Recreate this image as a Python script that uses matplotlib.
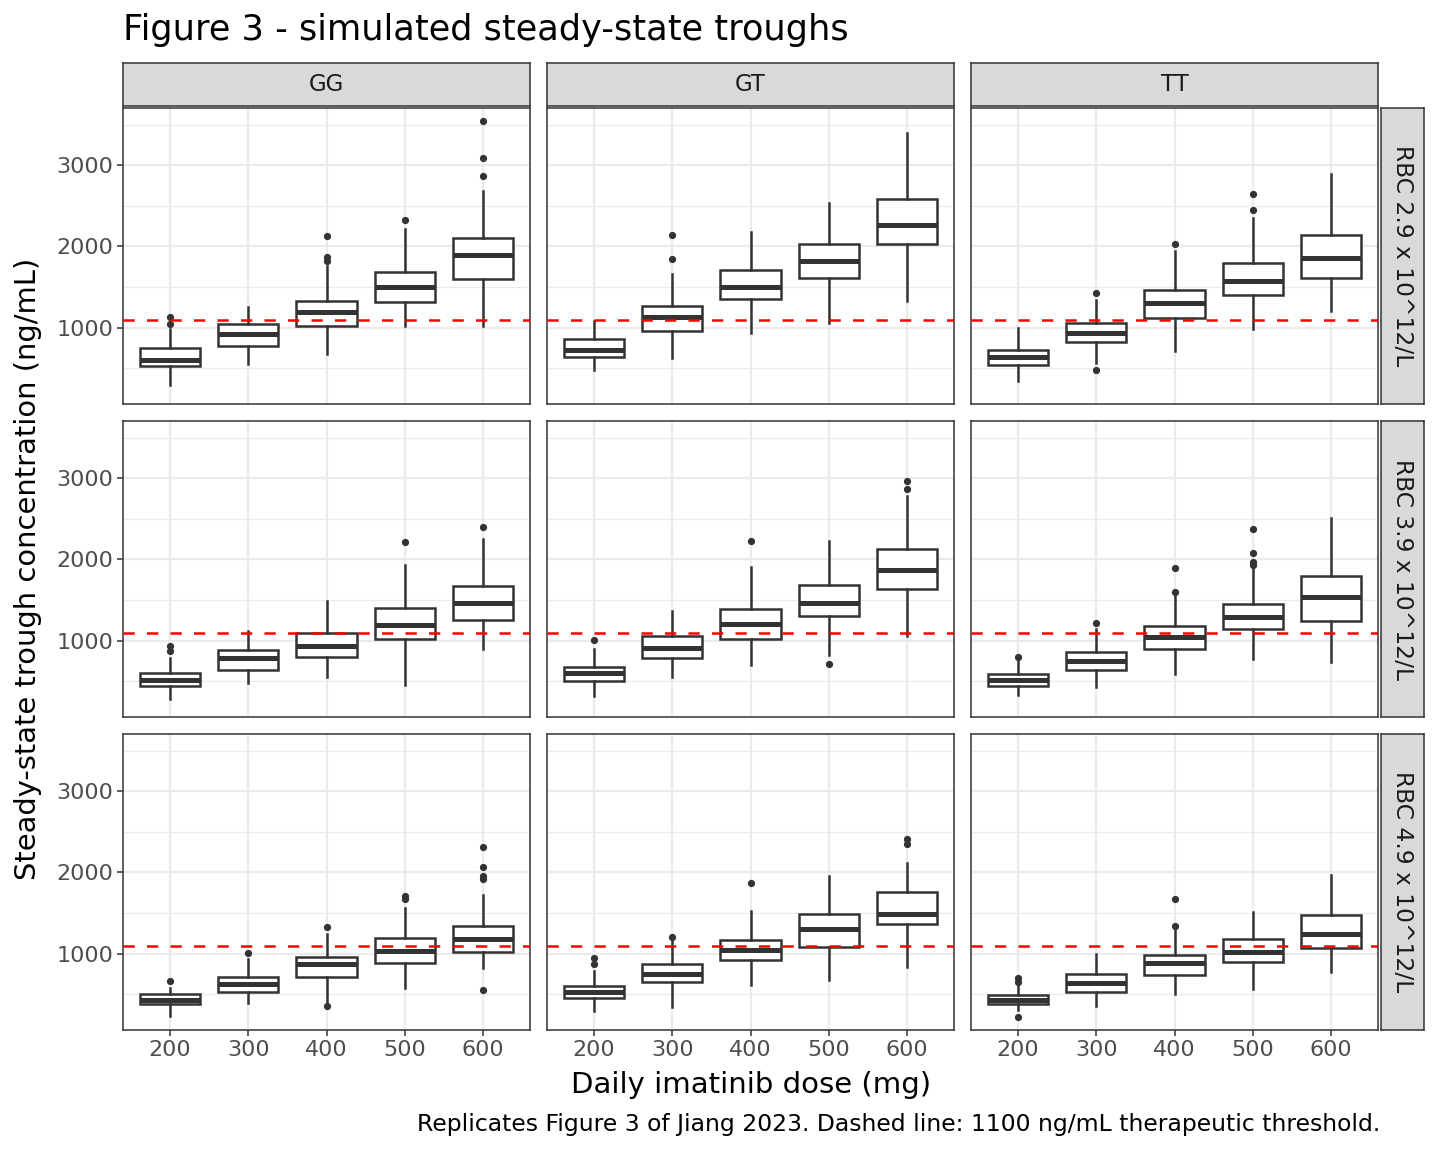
import matplotlib
matplotlib.use("Agg")
import matplotlib.pyplot as plt

# facets
genotypes = ["GG", "GT", "TT"]
rbc_labels = ["RBC 2.9 x 10^12/L", "RBC 3.9 x 10^12/L", "RBC 4.9 x 10^12/L"]
doses = [200, 300, 400, 500, 600]
threshold = 1100

# box statistics, [rbc row][genotype][dose]
whisk_lo = [
    [[291, 549, 672, 1016, 1016], [480, 623, 939, 1057, 1328], [340, 560, 713, 988, 1201]],
    [[283, 475, 549, 459, 902], [320, 549, 697, 824, 1061], [328, 434, 590, 779, 734]],
    [[238, 393, 393, 582, 824], [291, 344, 611, 672, 836], [303, 352, 508, 562, 775]],
]
q1 = [
    [[533, 779, 1025, 1316, 1594], [639, 963, 1357, 1615, 2033], [541, 820, 1115, 1398, 1615]],
    [[439, 639, 803, 1016, 1254], [508, 791, 1020, 1307, 1631], [443, 643, 902, 1148, 1246]],
    [[377, 529, 709, 881, 1016], [451, 652, 918, 1082, 1365], [377, 525, 738, 893, 1070]],
]
median = [
    [[602, 918, 1197, 1500, 1893], [725, 1131, 1500, 1815, 2262], [635, 934, 1307, 1574, 1852]],
    [[516, 783, 934, 1197, 1463], [598, 914, 1201, 1467, 1865], [520, 750, 1045, 1287, 1541]],
    [[426, 631, 877, 1033, 1176], [529, 754, 1045, 1307, 1492], [426, 639, 885, 1020, 1242]],
]
q3 = [
    [[746, 1041, 1328, 1684, 2106], [857, 1262, 1705, 2029, 2590], [730, 1061, 1467, 1795, 2135]],
    [[598, 885, 1094, 1398, 1668], [672, 1053, 1393, 1680, 2123], [590, 861, 1180, 1455, 1791]],
    [[500, 717, 959, 1197, 1340], [598, 877, 1172, 1488, 1762], [488, 746, 980, 1176, 1471]],
]
whisk_hi = [
    [[980, 1254, 1758, 2209, 2688], [1082, 1656, 2176, 2529, 3397], [1000, 1336, 1943, 2352, 2893]],
    [[787, 1115, 1488, 1926, 2258], [902, 1361, 1902, 2225, 2779], [760, 1143, 1566, 1902, 2508]],
    [[578, 939, 1246, 1557, 1721], [783, 1156, 1525, 1959, 2119], [623, 992, 1307, 1512, 1967]],
]
outliers = [
    [[[1049, 1131], [], [1820, 1869, 2131], [2328], [2865, 3090, 3545]],
     [[], [1848, 2147], [], [], []],
     [[], [475, 1422], [2025], [2455, 2643], []]],
    [[[869, 939], [], [], [2213], [2401]],
     [[1008], [], [2225], [713], [2873, 2963]],
     [[803], [1213], [1594, 1893], [1930, 1967, 2078, 2381], []]],
    [[[668], [1012], [357, 1324], [1676, 1709], [549, 1914, 1951, 2070, 2311]],
     [[877, 943], [1209], [1869], [], [2352, 2418]],
     [[217, 652, 701], [], [1340, 1676], [], []]],
]

W, H = 1440, 1152
fig = plt.figure(figsize=(W / 100, H / 100), dpi=100)
plt.rcParams["font.family"] = ["DejaVu Sans"]

col_x = [123, 547, 971]
row_y = [108, 421, 734]
pw, ph = 407, 296
dark = "#333333"


def px_axes(x, y, w, h):
    return fig.add_axes([x / W, 1 - (y + h) / H, w / W, h / H])


for r in range(3):
    for c in range(3):
        ax = px_axes(col_x[c], row_y[r], pw, ph)
        stats = []
        for i in range(len(doses)):
            stats.append(dict(whislo=whisk_lo[r][c][i], q1=q1[r][c][i], med=median[r][c][i],
                              q3=q3[r][c][i], whishi=whisk_hi[r][c][i],
                              fliers=outliers[r][c][i]))
        ax.bxp(stats, positions=range(1, 6), widths=0.77, patch_artist=True, showcaps=False,
               boxprops=dict(facecolor="white", edgecolor=dark, linewidth=1.8),
               medianprops=dict(color=dark, linewidth=3.6, solid_capstyle="butt"),
               whiskerprops=dict(color=dark, linewidth=1.8),
               flierprops=dict(marker="o", markersize=4.2, markerfacecolor=dark,
                               markeredgecolor=dark, linestyle="none"))
        ax.axhline(threshold, color="red", linewidth=1.8, linestyle=(0, (4.5, 4.9)), zorder=5)
        ax.set_xlim(0.4, 5.6)
        ax.set_ylim(60, 3705)
        ax.set_xticks(range(1, 6))
        ax.set_yticks([1000, 2000, 3000])
        ax.set_yticks([500, 1500, 2500, 3500], minor=True)
        ax.set_axisbelow(True)
        ax.grid(True, which="major", color="#EBEBEB", linewidth=1.6)
        ax.grid(True, which="minor", axis="y", color="#EBEBEB", linewidth=0.8)
        for s in ax.spines.values():
            s.set_color(dark)
            s.set_linewidth(1.1)
        ax.tick_params(which="minor", length=0)
        ax.tick_params(which="major", length=4, width=1.1, color=dark,
                       labelcolor="#4D4D4D", labelsize=16, pad=3)
        if r == 2:
            ax.set_xticklabels([str(d) for d in doses])
        else:
            ax.tick_params(axis="x", length=0, labelbottom=False)
        if c != 0:
            ax.tick_params(axis="y", length=0, labelleft=False)

# strips
for c in range(3):
    sa = px_axes(col_x[c], 63, pw, 43)
    sa.set_facecolor("#D9D9D9")
    sa.set_xticks([])
    sa.set_yticks([])
    for s in sa.spines.values():
        s.set_color(dark)
        s.set_linewidth(1.1)
    sa.text(0.5, 0.5, genotypes[c], ha="center", va="center", fontsize=16.5,
            color="#1A1A1A", transform=sa.transAxes)

for r in range(3):
    sa = px_axes(1381, row_y[r], 43, ph)
    sa.set_facecolor("#D9D9D9")
    sa.set_xticks([])
    sa.set_yticks([])
    for s in sa.spines.values():
        s.set_color(dark)
        s.set_linewidth(1.1)
    sa.text(0.5, 0.5, rbc_labels[r], ha="center", va="center", fontsize=16.8,
            color="#1A1A1A", rotation=-90, transform=sa.transAxes)

fig.text(123 / W, 1 - 30 / H, "Figure 3 - simulated steady-state troughs",
         ha="left", va="center", fontsize=25.3)
fig.text(28 / W, 1 - 569 / H, "Steady-state trough concentration (ng/mL)",
         ha="center", va="center", rotation=90, fontsize=20.9)
fig.text(751 / W, 1 - 1085 / H, "Daily imatinib dose (mg)",
         ha="center", va="center", fontsize=21)
fig.text(1380 / W, 1 - 1124 / H,
         "Replicates Figure 3 of Jiang 2023. Dashed line: 1100 ng/mL therapeutic threshold.",
         ha="right", va="center", fontsize=16.9)

fig.savefig("out.png", dpi=100)
